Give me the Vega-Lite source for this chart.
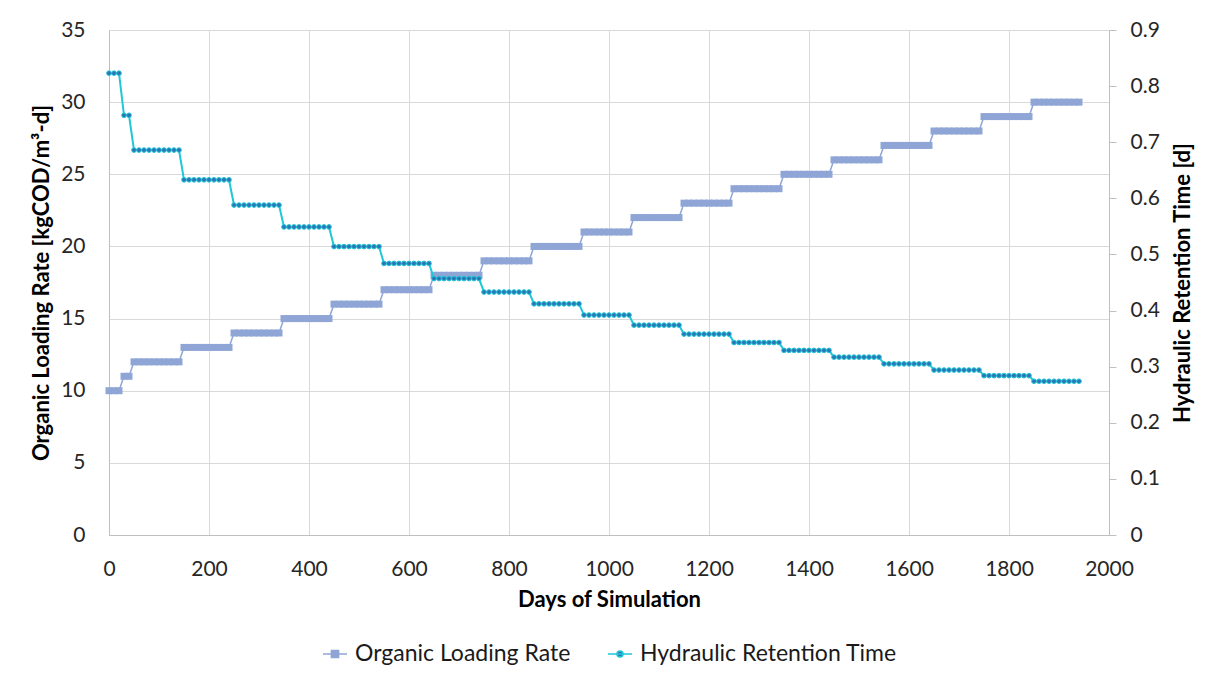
{
  "$schema": "https://vega.github.io/schema/vega-lite/v6.json",
  "width": 1000,
  "height": 505,
  "autosize": {"type": "none"},
  "padding": {"left": 109, "top": 30, "right": 106, "bottom": 140},
  "background": "white",
  "config": {
    "font": "Lato",
    "view": {"stroke": null},
    "axis": {
      "labelFont": "Lato",
      "titleFont": "Lato",
      "labelFontSize": 21,
      "labelColor": "#262626",
      "titleFontSize": 22,
      "titleFontWeight": "bold",
      "titleColor": "#000000",
      "gridColor": "#D9D9D9",
      "gridWidth": 1,
      "domainColor": "#BFBFBF",
      "domainWidth": 1,
      "tickColor": "#BFBFBF"
    }
  },
  "data": {
    "values": [
      {"day": 0, "olr": 10, "hrt": 0.823}, {"day": 10, "olr": 10, "hrt": 0.823}, {"day": 20, "olr": 10, "hrt": 0.823},
      {"day": 30, "olr": 11, "hrt": 0.748}, {"day": 40, "olr": 11, "hrt": 0.748},
      {"day": 50, "olr": 12, "hrt": 0.686}, {"day": 60, "olr": 12, "hrt": 0.686}, {"day": 70, "olr": 12, "hrt": 0.686}, {"day": 80, "olr": 12, "hrt": 0.686}, {"day": 90, "olr": 12, "hrt": 0.686},
      {"day": 100, "olr": 12, "hrt": 0.686}, {"day": 110, "olr": 12, "hrt": 0.686}, {"day": 120, "olr": 12, "hrt": 0.686}, {"day": 130, "olr": 12, "hrt": 0.686}, {"day": 140, "olr": 12, "hrt": 0.686},
      {"day": 150, "olr": 13, "hrt": 0.633}, {"day": 160, "olr": 13, "hrt": 0.633}, {"day": 170, "olr": 13, "hrt": 0.633}, {"day": 180, "olr": 13, "hrt": 0.633}, {"day": 190, "olr": 13, "hrt": 0.633},
      {"day": 200, "olr": 13, "hrt": 0.633}, {"day": 210, "olr": 13, "hrt": 0.633}, {"day": 220, "olr": 13, "hrt": 0.633}, {"day": 230, "olr": 13, "hrt": 0.633}, {"day": 240, "olr": 13, "hrt": 0.633},
      {"day": 250, "olr": 14, "hrt": 0.588}, {"day": 260, "olr": 14, "hrt": 0.588}, {"day": 270, "olr": 14, "hrt": 0.588}, {"day": 280, "olr": 14, "hrt": 0.588}, {"day": 290, "olr": 14, "hrt": 0.588},
      {"day": 300, "olr": 14, "hrt": 0.588}, {"day": 310, "olr": 14, "hrt": 0.588}, {"day": 320, "olr": 14, "hrt": 0.588}, {"day": 330, "olr": 14, "hrt": 0.588}, {"day": 340, "olr": 14, "hrt": 0.588},
      {"day": 350, "olr": 15, "hrt": 0.549}, {"day": 360, "olr": 15, "hrt": 0.549}, {"day": 370, "olr": 15, "hrt": 0.549}, {"day": 380, "olr": 15, "hrt": 0.549}, {"day": 390, "olr": 15, "hrt": 0.549},
      {"day": 400, "olr": 15, "hrt": 0.549}, {"day": 410, "olr": 15, "hrt": 0.549}, {"day": 420, "olr": 15, "hrt": 0.549}, {"day": 430, "olr": 15, "hrt": 0.549}, {"day": 440, "olr": 15, "hrt": 0.549},
      {"day": 450, "olr": 16, "hrt": 0.514}, {"day": 460, "olr": 16, "hrt": 0.514}, {"day": 470, "olr": 16, "hrt": 0.514}, {"day": 480, "olr": 16, "hrt": 0.514}, {"day": 490, "olr": 16, "hrt": 0.514},
      {"day": 500, "olr": 16, "hrt": 0.514}, {"day": 510, "olr": 16, "hrt": 0.514}, {"day": 520, "olr": 16, "hrt": 0.514}, {"day": 530, "olr": 16, "hrt": 0.514}, {"day": 540, "olr": 16, "hrt": 0.514},
      {"day": 550, "olr": 17, "hrt": 0.484}, {"day": 560, "olr": 17, "hrt": 0.484}, {"day": 570, "olr": 17, "hrt": 0.484}, {"day": 580, "olr": 17, "hrt": 0.484}, {"day": 590, "olr": 17, "hrt": 0.484},
      {"day": 600, "olr": 17, "hrt": 0.484}, {"day": 610, "olr": 17, "hrt": 0.484}, {"day": 620, "olr": 17, "hrt": 0.484}, {"day": 630, "olr": 17, "hrt": 0.484}, {"day": 640, "olr": 17, "hrt": 0.484},
      {"day": 650, "olr": 18, "hrt": 0.457}, {"day": 660, "olr": 18, "hrt": 0.457}, {"day": 670, "olr": 18, "hrt": 0.457}, {"day": 680, "olr": 18, "hrt": 0.457}, {"day": 690, "olr": 18, "hrt": 0.457},
      {"day": 700, "olr": 18, "hrt": 0.457}, {"day": 710, "olr": 18, "hrt": 0.457}, {"day": 720, "olr": 18, "hrt": 0.457}, {"day": 730, "olr": 18, "hrt": 0.457}, {"day": 740, "olr": 18, "hrt": 0.457},
      {"day": 750, "olr": 19, "hrt": 0.433}, {"day": 760, "olr": 19, "hrt": 0.433}, {"day": 770, "olr": 19, "hrt": 0.433}, {"day": 780, "olr": 19, "hrt": 0.433}, {"day": 790, "olr": 19, "hrt": 0.433},
      {"day": 800, "olr": 19, "hrt": 0.433}, {"day": 810, "olr": 19, "hrt": 0.433}, {"day": 820, "olr": 19, "hrt": 0.433}, {"day": 830, "olr": 19, "hrt": 0.433}, {"day": 840, "olr": 19, "hrt": 0.433},
      {"day": 850, "olr": 20, "hrt": 0.412}, {"day": 860, "olr": 20, "hrt": 0.412}, {"day": 870, "olr": 20, "hrt": 0.412}, {"day": 880, "olr": 20, "hrt": 0.412}, {"day": 890, "olr": 20, "hrt": 0.412},
      {"day": 900, "olr": 20, "hrt": 0.412}, {"day": 910, "olr": 20, "hrt": 0.412}, {"day": 920, "olr": 20, "hrt": 0.412}, {"day": 930, "olr": 20, "hrt": 0.412}, {"day": 940, "olr": 20, "hrt": 0.412},
      {"day": 950, "olr": 21, "hrt": 0.392}, {"day": 960, "olr": 21, "hrt": 0.392}, {"day": 970, "olr": 21, "hrt": 0.392}, {"day": 980, "olr": 21, "hrt": 0.392}, {"day": 990, "olr": 21, "hrt": 0.392},
      {"day": 1000, "olr": 21, "hrt": 0.392}, {"day": 1010, "olr": 21, "hrt": 0.392}, {"day": 1020, "olr": 21, "hrt": 0.392}, {"day": 1030, "olr": 21, "hrt": 0.392}, {"day": 1040, "olr": 21, "hrt": 0.392},
      {"day": 1050, "olr": 22, "hrt": 0.374}, {"day": 1060, "olr": 22, "hrt": 0.374}, {"day": 1070, "olr": 22, "hrt": 0.374}, {"day": 1080, "olr": 22, "hrt": 0.374}, {"day": 1090, "olr": 22, "hrt": 0.374},
      {"day": 1100, "olr": 22, "hrt": 0.374}, {"day": 1110, "olr": 22, "hrt": 0.374}, {"day": 1120, "olr": 22, "hrt": 0.374}, {"day": 1130, "olr": 22, "hrt": 0.374}, {"day": 1140, "olr": 22, "hrt": 0.374},
      {"day": 1150, "olr": 23, "hrt": 0.358}, {"day": 1160, "olr": 23, "hrt": 0.358}, {"day": 1170, "olr": 23, "hrt": 0.358}, {"day": 1180, "olr": 23, "hrt": 0.358}, {"day": 1190, "olr": 23, "hrt": 0.358},
      {"day": 1200, "olr": 23, "hrt": 0.358}, {"day": 1210, "olr": 23, "hrt": 0.358}, {"day": 1220, "olr": 23, "hrt": 0.358}, {"day": 1230, "olr": 23, "hrt": 0.358}, {"day": 1240, "olr": 23, "hrt": 0.358},
      {"day": 1250, "olr": 24, "hrt": 0.343}, {"day": 1260, "olr": 24, "hrt": 0.343}, {"day": 1270, "olr": 24, "hrt": 0.343}, {"day": 1280, "olr": 24, "hrt": 0.343}, {"day": 1290, "olr": 24, "hrt": 0.343},
      {"day": 1300, "olr": 24, "hrt": 0.343}, {"day": 1310, "olr": 24, "hrt": 0.343}, {"day": 1320, "olr": 24, "hrt": 0.343}, {"day": 1330, "olr": 24, "hrt": 0.343}, {"day": 1340, "olr": 24, "hrt": 0.343},
      {"day": 1350, "olr": 25, "hrt": 0.329}, {"day": 1360, "olr": 25, "hrt": 0.329}, {"day": 1370, "olr": 25, "hrt": 0.329}, {"day": 1380, "olr": 25, "hrt": 0.329}, {"day": 1390, "olr": 25, "hrt": 0.329},
      {"day": 1400, "olr": 25, "hrt": 0.329}, {"day": 1410, "olr": 25, "hrt": 0.329}, {"day": 1420, "olr": 25, "hrt": 0.329}, {"day": 1430, "olr": 25, "hrt": 0.329}, {"day": 1440, "olr": 25, "hrt": 0.329},
      {"day": 1450, "olr": 26, "hrt": 0.317}, {"day": 1460, "olr": 26, "hrt": 0.317}, {"day": 1470, "olr": 26, "hrt": 0.317}, {"day": 1480, "olr": 26, "hrt": 0.317}, {"day": 1490, "olr": 26, "hrt": 0.317},
      {"day": 1500, "olr": 26, "hrt": 0.317}, {"day": 1510, "olr": 26, "hrt": 0.317}, {"day": 1520, "olr": 26, "hrt": 0.317}, {"day": 1530, "olr": 26, "hrt": 0.317}, {"day": 1540, "olr": 26, "hrt": 0.317},
      {"day": 1550, "olr": 27, "hrt": 0.305}, {"day": 1560, "olr": 27, "hrt": 0.305}, {"day": 1570, "olr": 27, "hrt": 0.305}, {"day": 1580, "olr": 27, "hrt": 0.305}, {"day": 1590, "olr": 27, "hrt": 0.305},
      {"day": 1600, "olr": 27, "hrt": 0.305}, {"day": 1610, "olr": 27, "hrt": 0.305}, {"day": 1620, "olr": 27, "hrt": 0.305}, {"day": 1630, "olr": 27, "hrt": 0.305}, {"day": 1640, "olr": 27, "hrt": 0.305},
      {"day": 1650, "olr": 28, "hrt": 0.294}, {"day": 1660, "olr": 28, "hrt": 0.294}, {"day": 1670, "olr": 28, "hrt": 0.294}, {"day": 1680, "olr": 28, "hrt": 0.294}, {"day": 1690, "olr": 28, "hrt": 0.294},
      {"day": 1700, "olr": 28, "hrt": 0.294}, {"day": 1710, "olr": 28, "hrt": 0.294}, {"day": 1720, "olr": 28, "hrt": 0.294}, {"day": 1730, "olr": 28, "hrt": 0.294}, {"day": 1740, "olr": 28, "hrt": 0.294},
      {"day": 1750, "olr": 29, "hrt": 0.284}, {"day": 1760, "olr": 29, "hrt": 0.284}, {"day": 1770, "olr": 29, "hrt": 0.284}, {"day": 1780, "olr": 29, "hrt": 0.284}, {"day": 1790, "olr": 29, "hrt": 0.284},
      {"day": 1800, "olr": 29, "hrt": 0.284}, {"day": 1810, "olr": 29, "hrt": 0.284}, {"day": 1820, "olr": 29, "hrt": 0.284}, {"day": 1830, "olr": 29, "hrt": 0.284}, {"day": 1840, "olr": 29, "hrt": 0.284},
      {"day": 1850, "olr": 30, "hrt": 0.274}, {"day": 1860, "olr": 30, "hrt": 0.274}, {"day": 1870, "olr": 30, "hrt": 0.274}, {"day": 1880, "olr": 30, "hrt": 0.274}, {"day": 1890, "olr": 30, "hrt": 0.274},
      {"day": 1900, "olr": 30, "hrt": 0.274}, {"day": 1910, "olr": 30, "hrt": 0.274}, {"day": 1920, "olr": 30, "hrt": 0.274}, {"day": 1930, "olr": 30, "hrt": 0.274}, {"day": 1940, "olr": 30, "hrt": 0.274}
    ]
  },
  "encoding": {
    "x": {
      "field": "day",
      "type": "quantitative",
      "scale": {"domain": [0, 2000], "nice": false},
      "axis": {
        "title": "Days of Simulation",
        "values": [0, 200, 400, 600, 800, 1000, 1200, 1400, 1600, 1800, 2000],
        "format": "d",
        "grid": true,
        "ticks": false,
        "labelFlush": false,
        "labelPadding": 23,
        "titlePadding": 10
      }
    }
  },
  "layer": [
    {
      "encoding": {
        "y": {
          "field": "olr",
          "type": "quantitative",
          "scale": {"domain": [0, 35], "nice": false},
          "axis": {
            "title": "Organic Loading Rate [kgCOD/m³-d]",
            "orient": "left",
            "values": [0, 5, 10, 15, 20, 25, 30, 35],
            "grid": true,
            "ticks": false,
            "labelPadding": 24,
            "titlePadding": 7
          }
        }
      },
      "layer": [
        {
          "mark": {"type": "line", "strokeWidth": 1.5},
          "encoding": {
            "color": {
              "datum": "Organic Loading Rate",
              "type": "nominal",
              "scale": {
                "domain": ["Organic Loading Rate", "Hydraulic Retention Time"],
                "range": ["#8EA5D6", "#1FC7D7"]
              },
              "legend": {
                "title": null,
                "orient": "none",
                "legendX": 213,
                "legendY": 611,
                "direction": "horizontal",
                "columns": 2,
                "padding": 0,
                "labelFont": "Lato",
                "labelFontSize": 23,
                "labelLimit": 400,
                "labelColor": "#1A1A1A",
                "labelOffset": 7,
                "columnPadding": 34,
                "symbolSize": 576,
                "symbolStrokeWidth": 1.5,
                "encode": {
                  "symbols": {
                    "update": {
                      "shape": {"signal": "datum.value === 'Organic Loading Rate' ? 'M-1,0H1M-0.3,-0.3H0.3V0.3H-0.3Z' : 'M-1,0H1M-0.25,0A0.25,0.25 0 1,0 0.25,0A0.25,0.25 0 1,0 -0.25,0Z'"},
                      "fill": {"signal": "datum.value === 'Organic Loading Rate' ? '#8EA5D6' : '#2E74B5'"},
                      "stroke": {"signal": "datum.value === 'Organic Loading Rate' ? '#8EA5D6' : '#1FC7D7'"},
                      "fillOpacity": {"value": 1},
                      "opacity": {"value": 1},
                      "strokeWidth": {"value": 1.5}
                    }
                  }
                }
              }
            }
          }
        },
        {
          "mark": {"type": "point", "shape": "square", "filled": true, "size": 49, "color": "#8EA5D6", "opacity": 1}
        }
      ]
    },
    {
      "encoding": {
        "y": {
          "field": "hrt",
          "type": "quantitative",
          "scale": {"domain": [0, 0.9], "nice": false},
          "axis": {
            "title": "Hydraulic Retention Time [d]",
            "orient": "right",
            "values": [0, 0.1, 0.2, 0.3, 0.4, 0.5, 0.6, 0.7, 0.8, 0.9],
            "format": ".1~f",
            "grid": false,
            "ticks": true,
            "tickSize": 7,
            "labelPadding": 14,
            "titleAngle": 270,
            "titleBaseline": "top",
            "titlePadding": 13
          }
        }
      },
      "layer": [
        {
          "mark": {"type": "line", "strokeWidth": 2},
          "encoding": {
            "color": {"datum": "Hydraulic Retention Time", "type": "nominal"}
          }
        },
        {
          "mark": {"type": "point", "shape": "circle", "filled": true, "size": 22, "fill": "#2E74B5", "stroke": "#1FC7D7", "strokeWidth": 1, "opacity": 1}
        }
      ]
    }
  ],
  "resolve": {"scale": {"y": "independent"}}
}
